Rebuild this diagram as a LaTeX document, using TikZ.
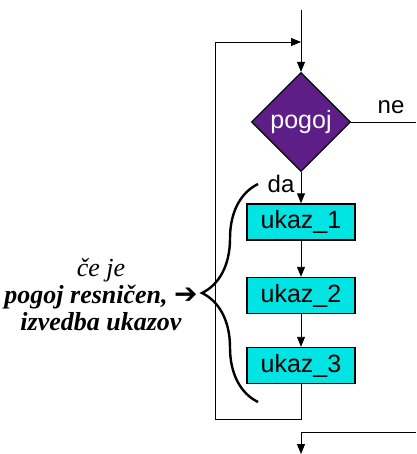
\documentclass[tikz,border=0pt]{standalone}
\usepackage{fontspec}
\setmainfont{Liberation Serif}
\setsansfont{Liberation Sans}
\newfontfamily\arrowfont{DejaVu Sans}
\usetikzlibrary{shapes.geometric,arrows.meta,decorations.pathreplacing}
\definecolor{pogojpurple}{HTML}{5E1E88}
\definecolor{ukazcyan}{HTML}{00E4E4}
\begin{document}
\begin{tikzpicture}
  [
  x=1pt, y=-1pt, font=\sffamily\fontsize{25}{30}\selectfont,
  line width=0.9pt, draw=black,
  arr/.style={-{Triangle[length=10pt,width=8pt]}},
  condnode/.style={diamond, aspect=1, minimum size=99pt, inner sep=0pt, fill=pogojpurple, draw=black, line width=1.2pt, text=white},
  ukaznode/.style={rectangle, minimum width=108pt, minimum height=36pt, inner sep=0pt, fill=ukazcyan, draw=black, line width=1.4pt},
  ]

\useasboundingbox (0,0) rectangle (416,454);

\node[condnode] (cond) at (301,122) {pogoj};
\node[ukaznode] (u1) at (301,222) {ukaz\_1};
\node[ukaznode] (u2) at (301,295.5) {ukaz\_2};
\node[ukaznode] (u3) at (301,365.5) {ukaz\_3};

\coordinate (vhod) at (301,10);
\coordinate (povratek) at (301,42);
\coordinate (zanka) at (215,419);
\coordinate (desno) at (416,122);
\coordinate (izhod) at (416,432);
\coordinate (konec) at (301,454);

\node[font=\sffamily\fontsize{24}{28}\selectfont] (ne) at (391,107) {ne};
\node[font=\sffamily\fontsize{24}{28}\selectfont] (da) at (281,184) {da};

\draw[arr] (vhod) -- (cond);
\draw (cond) -- (desno);
\draw[arr] (cond) -- (u1);
\draw[arr] (u1) -- (u2);
\draw[arr] (u2) -- (u3);
\draw[arr] (u3.south) |- (zanka) |- (povratek);
\draw[arr] (izhod) -| (konec);

\draw[decorate, decoration={brace, amplitude=56pt, aspect=0.5}, line width=2.4pt]
  (258,402) -- (258,184);

\node[font=\rmfamily\itshape\fontsize{26}{27}\selectfont, align=center] (opis) at (101,295)
  {če je\\ \textbf{pogoj resničen, {\arrowfont\upshape\fontsize{28}{27}\selectfont ➔}}\\ \textbf{izvedba ukazov}};
\end{tikzpicture}
\end{document}
